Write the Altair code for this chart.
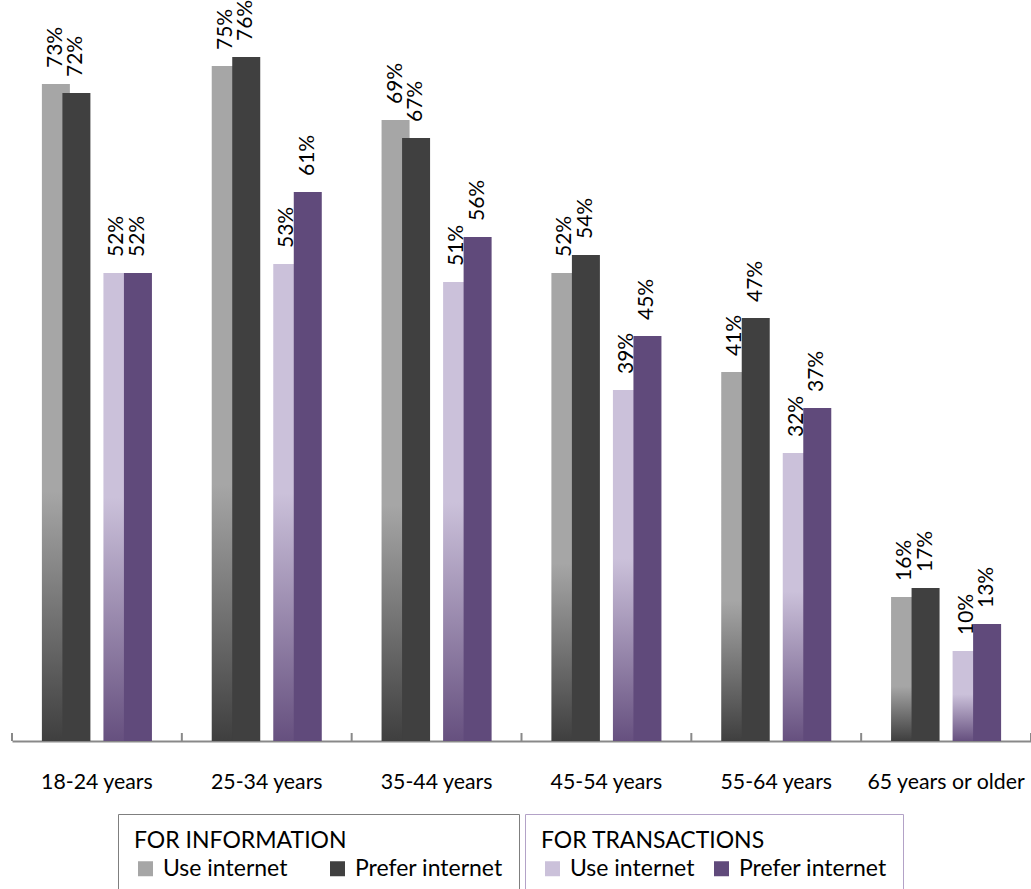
import altair as alt
import pandas as pd

groups = ["18-24 years", "25-34 years", "35-44 years", "45-54 years", "55-64 years", "65 years or older"]
info_use = [73, 75, 69, 52, 41, 16]
info_prefer = [72, 76, 67, 54, 47, 17]
trans_use = [52, 53, 51, 39, 32, 10]
trans_prefer = [52, 61, 56, 45, 37, 13]

rows = []
for kind, slot, series, vals in [
    ("info", "iu", "Use internet", info_use),
    ("info", "ip", "Prefer internet", info_prefer),
    ("trans", "tu", "Use internet", trans_use),
    ("trans", "tp", "Prefer internet", trans_prefer),
]:
    for g, v in zip(groups, vals):
        rows.append({"group": g, "kind": kind, "slot": slot, "series": series, "value": v})
df = pd.DataFrame(rows)
ticks_df = pd.DataFrame({"group": groups})

FONT = "Lato"
FS = 21
AXFS = 21.3
LGFS = 23

grad_info = {"gradient": "linear", "x1": 0, "y1": 0, "x2": 0, "y2": 1,
             "stops": [{"offset": 0, "color": "#a6a6a6"}, {"offset": 0.62, "color": "#a6a6a6"},
                       {"offset": 1, "color": "#3f3f3f"}]}
grad_trans = {"gradient": "linear", "x1": 0, "y1": 0, "x2": 0, "y2": 1,
              "stops": [{"offset": 0, "color": "#cbc1da"}, {"offset": 0.48, "color": "#cbc1da"},
                        {"offset": 1, "color": "#66507f"}]}

xaxis = alt.Axis(title=None, labelAngle=0, ticks=False, grid=False, domainColor="#898989",
                 domainWidth=2, labelFont=FONT, labelFontSize=AXFS, labelColor="#000000",
                 labelPadding=47, labelBaseline="alphabetic")
xscale = alt.Scale(paddingInner=0, paddingOuter=0)
X = alt.X("group:N", sort=groups, scale=xscale, axis=xaxis)
XOFF = alt.XOffset("slot:N", scale=alt.Scale(domain=["l", "iu", "ip", "gap", "tu", "tp", "r"],
                                             paddingInner=0, paddingOuter=0.64))
Y = alt.Y("value:Q", scale=alt.Scale(domain=[0, 80]), axis=None, stack=None)

def legend(title, lx, stroke, cp):
    return alt.Legend(title=title, orient="none", legendX=lx, legendY=793, direction="horizontal",
                      titleFont=FONT, titleFontSize=LGFS, titleFontWeight="normal", titleColor="#000000",
                      titleLimit=600, labelLimit=400,
                      labelFont=FONT, labelFontSize=LGFS, labelColor="#000000", symbolType="square",
                      symbolSize=225, symbolStrokeWidth=0, padding=16, strokeColor=stroke,
                      fillColor="white", columnPadding=cp, labelOffset=6, titlePadding=4,
                      titleAnchor="start", cornerRadius=0)

info_bars = alt.Chart(df).transform_filter("datum.kind === 'info'").mark_bar(width=28).encode(
    x=X, xOffset=XOFF, y=Y,
    fill=alt.condition("datum.series === 'Use internet'", alt.value(grad_info),
                       alt.Fill("series:N", scale=alt.Scale(domain=["Use internet", "Prefer internet"],
                                                            range=["#a6a6a6", "#404040"]),
                                legend=legend("FOR INFORMATION", 106, "#7f7f7f", 38))),
)
trans_bars = alt.Chart(df).transform_filter("datum.kind === 'trans'").mark_bar(width=28).encode(
    x=X, xOffset=XOFF, y=Y,
    fill=alt.condition("datum.series === 'Use internet'", alt.value(grad_trans),
                       alt.Fill("series:N", scale=alt.Scale(domain=["Use internet", "Prefer internet"],
                                                            range=["#cbc1da", "#604a7b"]),
                                legend=legend("FOR TRANSACTIONS", 513, "#b3a2c7", 15))),
)
labels = alt.Chart(df).transform_calculate(label="datum.value + '%'").mark_text(
    angle=270, align="left", baseline="middle", dx=16, font=FONT, fontSize=FS, color="#000000"
).encode(x=X, xOffset=XOFF, y=Y, text="label:N")

ticks0 = alt.Chart(ticks_df).mark_rule(color="#898989", strokeWidth=2).encode(
    x=alt.X("group:N", sort=groups, scale=xscale, axis=xaxis, bandPosition=0),
    y=alt.value(712), y2=alt.value(720))
ticks1 = alt.Chart(ticks_df).transform_filter(f"datum.group === '{groups[-1]}'").mark_rule(
    color="#898989", strokeWidth=2).encode(
    x=alt.X("group:N", sort=groups, scale=xscale, axis=xaxis, bandPosition=1),
    y=alt.value(712), y2=alt.value(720))

chart = alt.layer(info_bars, trans_bars, labels, ticks0, ticks1).resolve_scale(
    fill="independent"
).properties(
    width=1019, height=720,
    autosize=alt.AutoSizeParams(type="none"),
    padding={"left": 12, "top": 21, "right": 0, "bottom": 148},
    background="white",
).configure_view(stroke=None)

chart.save("out.html", embed_options={"renderer": "svg", "actions": False})
